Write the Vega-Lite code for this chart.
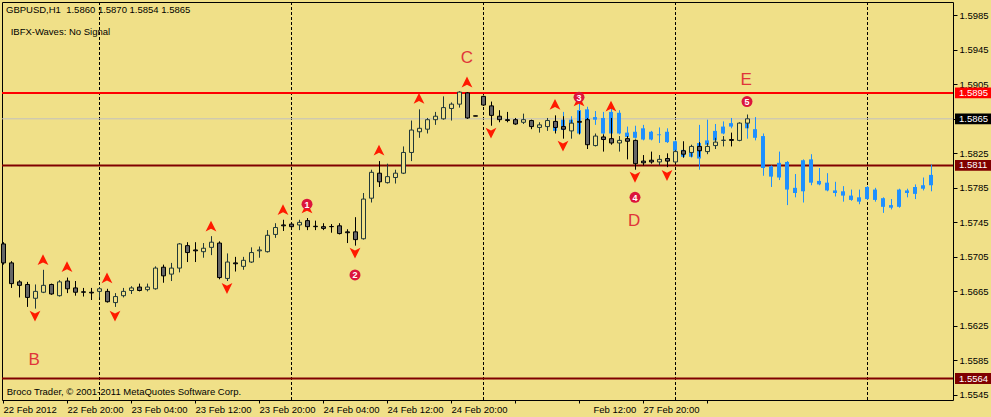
{
  "$schema": "https://vega.github.io/schema/vega-lite/v6.json",
  "width": 951,
  "height": 398,
  "autosize": {"type": "none"},
  "padding": {"left": 2, "top": 2, "right": 38, "bottom": 17},
  "background": "#F0E088",
  "config": {
    "view": {"stroke": "#000000", "strokeWidth": 1},
    "font": "Liberation Sans",
    "axis": {"grid": false, "domain": false, "tickColor": "#000000", "labelColor": "#000000", "labelFont": "Liberation Sans", "labelFontSize": 9.5, "labelOverlap": false, "labelBound": false},
    "axisY": {"orient": "right", "labelOverlap": false, "labelFlush": false}
  },
  "datasets": {
    "days": [{"i": 12}, {"i": 36}, {"i": 60}, {"i": 84}, {"i": 108}],
    "levels": [
      {"price": 1.5895, "kind": "red"},
      {"price": 1.5865, "kind": "bid"},
      {"price": 1.5811, "kind": "maroon"},
      {"price": 1.5564, "kind": "maroon"}
    ],
    "candles": [
      {"i": 0, "open": 1.5720, "high": 1.5722, "low": 1.5696, "close": 1.5698},
      {"i": 1, "open": 1.5698, "high": 1.5700, "low": 1.5669, "close": 1.5674},
      {"i": 2, "open": 1.5676, "high": 1.5678, "low": 1.5658, "close": 1.5672},
      {"i": 3, "open": 1.5673, "high": 1.5676, "low": 1.5647, "close": 1.5658},
      {"i": 4, "open": 1.5657, "high": 1.5673, "low": 1.5645, "close": 1.5665},
      {"i": 5, "open": 1.5664, "high": 1.5690, "low": 1.5663, "close": 1.5672},
      {"i": 6, "open": 1.5673, "high": 1.5674, "low": 1.5661, "close": 1.5662},
      {"i": 7, "open": 1.5660, "high": 1.5678, "low": 1.5659, "close": 1.5676},
      {"i": 8, "open": 1.5677, "high": 1.5681, "low": 1.5663, "close": 1.5668},
      {"i": 9, "open": 1.5669, "high": 1.5677, "low": 1.5660, "close": 1.5664},
      {"i": 10, "open": 1.56645, "high": 1.5669, "low": 1.5659, "close": 1.5664},
      {"i": 11, "open": 1.5664, "high": 1.5669, "low": 1.5655, "close": 1.56632},
      {"i": 12, "open": 1.5665, "high": 1.5670, "low": 1.5658, "close": 1.5668},
      {"i": 13, "open": 1.5665, "high": 1.5668, "low": 1.5652, "close": 1.5653},
      {"i": 14, "open": 1.5652, "high": 1.5663, "low": 1.5647, "close": 1.5659},
      {"i": 15, "open": 1.5660, "high": 1.5669, "low": 1.5658, "close": 1.5665},
      {"i": 16, "open": 1.5666, "high": 1.5671, "low": 1.5662, "close": 1.5669},
      {"i": 17, "open": 1.5670, "high": 1.5674, "low": 1.5665, "close": 1.5666},
      {"i": 18, "open": 1.5667, "high": 1.5674, "low": 1.5665, "close": 1.5670},
      {"i": 19, "open": 1.5668, "high": 1.5694, "low": 1.5667, "close": 1.5692},
      {"i": 20, "open": 1.5693, "high": 1.5696, "low": 1.5675, "close": 1.5683},
      {"i": 21, "open": 1.5685, "high": 1.5698, "low": 1.5677, "close": 1.5692},
      {"i": 22, "open": 1.5692, "high": 1.5721, "low": 1.5687, "close": 1.5720},
      {"i": 23, "open": 1.5718, "high": 1.5722, "low": 1.5699, "close": 1.5710},
      {"i": 24, "open": 1.5713, "high": 1.5722, "low": 1.5699, "close": 1.5712},
      {"i": 25, "open": 1.5711, "high": 1.5721, "low": 1.5704, "close": 1.5715},
      {"i": 26, "open": 1.5716, "high": 1.5729, "low": 1.5707, "close": 1.5722},
      {"i": 27, "open": 1.5721, "high": 1.5723, "low": 1.5679, "close": 1.5681},
      {"i": 28, "open": 1.5680, "high": 1.5709, "low": 1.5677, "close": 1.5699},
      {"i": 29, "open": 1.5698, "high": 1.5705, "low": 1.5688, "close": 1.5697},
      {"i": 30, "open": 1.5694, "high": 1.5705, "low": 1.5690, "close": 1.5701},
      {"i": 31, "open": 1.5699, "high": 1.5716, "low": 1.5698, "close": 1.5710},
      {"i": 32, "open": 1.5712, "high": 1.5717, "low": 1.5704, "close": 1.5713},
      {"i": 33, "open": 1.5711, "high": 1.5736, "low": 1.5710, "close": 1.5730},
      {"i": 34, "open": 1.5731, "high": 1.5744, "low": 1.5727, "close": 1.5739},
      {"i": 35, "open": 1.5742, "high": 1.5748, "low": 1.5735, "close": 1.5741},
      {"i": 36, "open": 1.5743, "high": 1.5744, "low": 1.5738, "close": 1.5740},
      {"i": 37, "open": 1.5742, "high": 1.5748, "low": 1.5736, "close": 1.5745},
      {"i": 38, "open": 1.5747, "high": 1.5750, "low": 1.5736, "close": 1.5740},
      {"i": 39, "open": 1.57405, "high": 1.5747, "low": 1.5736, "close": 1.5740},
      {"i": 40, "open": 1.5740, "high": 1.5744, "low": 1.5736, "close": 1.5738},
      {"i": 41, "open": 1.57402, "high": 1.5743, "low": 1.5733, "close": 1.5740},
      {"i": 42, "open": 1.5741, "high": 1.5744, "low": 1.5731, "close": 1.5732},
      {"i": 43, "open": 1.5734, "high": 1.5737, "low": 1.5721, "close": 1.5733},
      {"i": 44, "open": 1.5734, "high": 1.5751, "low": 1.5718, "close": 1.5725},
      {"i": 45, "open": 1.5726, "high": 1.5779, "low": 1.5725, "close": 1.5772},
      {"i": 46, "open": 1.5773, "high": 1.5806, "low": 1.5768, "close": 1.5803},
      {"i": 47, "open": 1.5802, "high": 1.5816, "low": 1.5786, "close": 1.5792},
      {"i": 48, "open": 1.5791, "high": 1.5813, "low": 1.5790, "close": 1.5798},
      {"i": 49, "open": 1.5797, "high": 1.5806, "low": 1.5790, "close": 1.5802},
      {"i": 50, "open": 1.5802, "high": 1.5833, "low": 1.5801, "close": 1.5826},
      {"i": 51, "open": 1.5826, "high": 1.5863, "low": 1.5816, "close": 1.5852},
      {"i": 52, "open": 1.5850, "high": 1.5876, "low": 1.5843, "close": 1.5854},
      {"i": 53, "open": 1.5853, "high": 1.5866, "low": 1.5848, "close": 1.5864},
      {"i": 54, "open": 1.5864, "high": 1.5873, "low": 1.5858, "close": 1.5868},
      {"i": 55, "open": 1.5865, "high": 1.5891, "low": 1.5864, "close": 1.5878},
      {"i": 56, "open": 1.5877, "high": 1.5884, "low": 1.5863, "close": 1.5882},
      {"i": 57, "open": 1.5882, "high": 1.5897, "low": 1.5878, "close": 1.5896},
      {"i": 58, "open": 1.5895, "high": 1.5896, "low": 1.5865, "close": 1.5866},
      {"i": 59, "open": 1.58685, "high": 1.58685, "low": 1.58681, "close": 1.58681},
      {"i": 60, "open": 1.5891, "high": 1.5892, "low": 1.5880, "close": 1.5881},
      {"i": 61, "open": 1.5880, "high": 1.5885, "low": 1.5857, "close": 1.5869},
      {"i": 62, "open": 1.5868, "high": 1.5875, "low": 1.5861, "close": 1.5864},
      {"i": 63, "open": 1.5864, "high": 1.5873, "low": 1.5861, "close": 1.5863},
      {"i": 64, "open": 1.5864, "high": 1.5866, "low": 1.5858, "close": 1.5859},
      {"i": 65, "open": 1.5861, "high": 1.5871, "low": 1.5859, "close": 1.5864},
      {"i": 66, "open": 1.5863, "high": 1.5864, "low": 1.5853, "close": 1.5856},
      {"i": 67, "open": 1.5855, "high": 1.5861, "low": 1.5849, "close": 1.5858},
      {"i": 68, "open": 1.5856, "high": 1.5866, "low": 1.5851, "close": 1.5863},
      {"i": 69, "open": 1.5862, "high": 1.5869, "low": 1.5848, "close": 1.5855},
      {"i": 70, "open": 1.5856, "high": 1.5868, "low": 1.5842, "close": 1.5853},
      {"i": 71, "open": 1.5851, "high": 1.5864, "low": 1.5842, "close": 1.5860},
      {"i": 72, "open": 1.5862, "high": 1.5874, "low": 1.5847, "close": 1.5861},
      {"i": 73, "open": 1.5864, "high": 1.5866, "low": 1.5830, "close": 1.5835},
      {"i": 74, "open": 1.5834, "high": 1.5848, "low": 1.5833, "close": 1.5845},
      {"i": 75, "open": 1.5844, "high": 1.5847, "low": 1.5827, "close": 1.5841},
      {"i": 76, "open": 1.5842, "high": 1.5866, "low": 1.5835, "close": 1.5837},
      {"i": 77, "open": 1.5837, "high": 1.5845, "low": 1.5827, "close": 1.5840},
      {"i": 78, "open": 1.5842, "high": 1.5845, "low": 1.5818, "close": 1.5839},
      {"i": 79, "open": 1.5840, "high": 1.5841, "low": 1.5806, "close": 1.5813},
      {"i": 80, "open": 1.5816, "high": 1.5823, "low": 1.5811, "close": 1.5814},
      {"i": 81, "open": 1.5817, "high": 1.5827, "low": 1.5813, "close": 1.5815},
      {"i": 82, "open": 1.5815, "high": 1.5823, "low": 1.5811, "close": 1.5818},
      {"i": 83, "open": 1.5819, "high": 1.5825, "low": 1.5809, "close": 1.5816},
      {"i": 84, "open": 1.5815, "high": 1.5829, "low": 1.5814, "close": 1.5827},
      {"i": 85, "open": 1.5828, "high": 1.5839, "low": 1.5820, "close": 1.5824},
      {"i": 86, "open": 1.5826, "high": 1.5835, "low": 1.5821, "close": 1.5833},
      {"i": 87, "open": 1.5833, "high": 1.5838, "low": 1.5821, "close": 1.5828},
      {"i": 88, "open": 1.5827, "high": 1.5837, "low": 1.5824, "close": 1.5833},
      {"i": 89, "open": 1.5834, "high": 1.5843, "low": 1.5830, "close": 1.5838},
      {"i": 90, "open": 1.5840, "high": 1.5845, "low": 1.5833, "close": 1.58402},
      {"i": 91, "open": 1.5841, "high": 1.5849, "low": 1.5833, "close": 1.5840},
      {"i": 92, "open": 1.5840, "high": 1.5861, "low": 1.5839, "close": 1.5860},
      {"i": 93, "open": 1.5860, "high": 1.5870, "low": 1.5854, "close": 1.5865}
    ],
    "blue": [
      {"i": 69, "open": 1.5862, "high": 1.5866, "low": 1.5850, "close": 1.5851},
      {"i": 70, "open": 1.5864, "high": 1.5873, "low": 1.5849, "close": 1.5852},
      {"i": 71, "open": 1.5854, "high": 1.5868, "low": 1.5849, "close": 1.5864},
      {"i": 72, "open": 1.5848, "high": 1.5883, "low": 1.5847, "close": 1.5875},
      {"i": 73, "open": 1.5876, "high": 1.5879, "low": 1.5857, "close": 1.5858},
      {"i": 74, "open": 1.5867, "high": 1.5874, "low": 1.5858, "close": 1.5864},
      {"i": 75, "open": 1.5866, "high": 1.5873, "low": 1.5847, "close": 1.5848},
      {"i": 76, "open": 1.5848, "high": 1.5878, "low": 1.5847, "close": 1.5873},
      {"i": 77, "open": 1.5872, "high": 1.5875, "low": 1.5847, "close": 1.5848},
      {"i": 78, "open": 1.5849, "high": 1.5856, "low": 1.5843, "close": 1.5844},
      {"i": 79, "open": 1.5850, "high": 1.5857, "low": 1.5842, "close": 1.5843},
      {"i": 80, "open": 1.5841, "high": 1.5858, "low": 1.5840, "close": 1.5854},
      {"i": 81, "open": 1.5850, "high": 1.5851, "low": 1.5840, "close": 1.5841},
      {"i": 82, "open": 1.5847, "high": 1.5855, "low": 1.5837, "close": 1.5846},
      {"i": 83, "open": 1.5838, "high": 1.5854, "low": 1.5837, "close": 1.5850},
      {"i": 84, "open": 1.5839, "high": 1.5840, "low": 1.5827, "close": 1.5828},
      {"i": 85, "open": 1.5829, "high": 1.5831, "low": 1.5820, "close": 1.5821},
      {"i": 86, "open": 1.5821, "high": 1.5833, "low": 1.5820, "close": 1.5832},
      {"i": 87, "open": 1.5837, "high": 1.5858, "low": 1.5806, "close": 1.5819},
      {"i": 88, "open": 1.5835, "high": 1.5864, "low": 1.5833, "close": 1.5840},
      {"i": 89, "open": 1.5840, "high": 1.5859, "low": 1.5839, "close": 1.5851},
      {"i": 90, "open": 1.5848, "high": 1.5862, "low": 1.5847, "close": 1.5856},
      {"i": 91, "open": 1.5856, "high": 1.5866, "low": 1.5854, "close": 1.5860},
      {"i": 93, "open": 1.5860, "high": 1.5869, "low": 1.5842, "close": 1.5854},
      {"i": 94, "open": 1.5853, "high": 1.5867, "low": 1.5840, "close": 1.5843},
      {"i": 95, "open": 1.5845, "high": 1.5848, "low": 1.5799, "close": 1.5808},
      {"i": 96, "open": 1.5810, "high": 1.5811, "low": 1.5786, "close": 1.5798},
      {"i": 97, "open": 1.5797, "high": 1.5827, "low": 1.5794, "close": 1.5814},
      {"i": 98, "open": 1.5815, "high": 1.5816, "low": 1.5765, "close": 1.5783},
      {"i": 99, "open": 1.5785, "high": 1.5801, "low": 1.5774, "close": 1.5779},
      {"i": 100, "open": 1.5781, "high": 1.5818, "low": 1.5768, "close": 1.5817},
      {"i": 101, "open": 1.5818, "high": 1.5824, "low": 1.5788, "close": 1.5791},
      {"i": 102, "open": 1.5793, "high": 1.5808, "low": 1.5788, "close": 1.5789},
      {"i": 103, "open": 1.5791, "high": 1.5802, "low": 1.5781, "close": 1.5782},
      {"i": 104, "open": 1.5782, "high": 1.5792, "low": 1.5775, "close": 1.5779},
      {"i": 105, "open": 1.5781, "high": 1.5787, "low": 1.5769, "close": 1.5776},
      {"i": 106, "open": 1.5776, "high": 1.5783, "low": 1.5770, "close": 1.5771},
      {"i": 107, "open": 1.5774, "high": 1.5783, "low": 1.5766, "close": 1.5769},
      {"i": 108, "open": 1.5772, "high": 1.5787, "low": 1.5771, "close": 1.5786},
      {"i": 109, "open": 1.5771, "high": 1.5785, "low": 1.5769, "close": 1.5783},
      {"i": 110, "open": 1.5773, "high": 1.5774, "low": 1.5756, "close": 1.5763},
      {"i": 111, "open": 1.5765, "high": 1.5772, "low": 1.5760, "close": 1.5762},
      {"i": 112, "open": 1.5763, "high": 1.5784, "low": 1.5762, "close": 1.5783},
      {"i": 113, "open": 1.5779, "high": 1.5784, "low": 1.5774, "close": 1.5782},
      {"i": 114, "open": 1.5778, "high": 1.5789, "low": 1.5772, "close": 1.5786},
      {"i": 115, "open": 1.5784, "high": 1.5797, "low": 1.5782, "close": 1.5788},
      {"i": 116, "open": 1.5788, "high": 1.5812, "low": 1.5781, "close": 1.5800}
    ],
    "upArrows": [
      {"i": 5, "price": 1.5701}, {"i": 8, "price": 1.5693}, {"i": 13, "price": 1.5680},
      {"i": 26, "price": 1.5740}, {"i": 35, "price": 1.5759}, {"i": 38, "price": 1.5761},
      {"i": 47, "price": 1.5828}, {"i": 52, "price": 1.5888}, {"i": 58, "price": 1.5907},
      {"i": 69, "price": 1.5881}, {"i": 72, "price": 1.5885}, {"i": 76, "price": 1.5879}
    ],
    "downArrows": [
      {"i": 4, "price": 1.5637}, {"i": 14, "price": 1.5637}, {"i": 28, "price": 1.5669},
      {"i": 44, "price": 1.5710}, {"i": 61, "price": 1.5849}, {"i": 70, "price": 1.5834},
      {"i": 79, "price": 1.5798}, {"i": 83, "price": 1.5800}
    ],
    "waves": [
      {"i": 38, "price": 1.5766, "n": "1"},
      {"i": 44, "price": 1.5684, "n": "2"},
      {"i": 72, "price": 1.5890, "n": "3"},
      {"i": 79, "price": 1.5774, "n": "4"},
      {"i": 93, "price": 1.5885, "n": "5"}
    ],
    "letters": [
      {"i": 58, "price": 1.59355, "label": "C"},
      {"i": 92.9, "price": 1.5910, "label": "E"},
      {"i": 78.9, "price": 1.57466, "label": "D"},
      {"i": 3.9, "price": 1.55855, "label": "B"}
    ],
    "notes": [
      {"i": 0.375, "price": 1.59911, "label": "GBPUSD,H1\u00a0 1.5860 1.5870 1.5854 1.5865"},
      {"i": 0.96, "price": 1.59656, "label": "IBFX-Waves: No Signal"},
      {"i": 0.46, "price": 1.55487, "label": "Broco Trader, © 2001-2011 MetaQuotes Software Corp."}
    ]
  },
  "layer": [
    {
      "data": {"name": "days"},
      "mark": {"type": "rule", "strokeDash": [3, 2], "color": "#000000", "strokeWidth": 1, "xOffset": 0.5},
      "encoding": {
        "x": {"field": "i", "type": "quantitative", "title": null, "scale": {"domain": [-0.125, 118.75], "nice": false, "zero": false, "padding": 0}}
      }
    },
    {
      "data": {"name": "levels"},
      "mark": {"type": "rule"},
      "encoding": {
        "y": {"field": "price", "type": "quantitative", "title": null, "scale": {"domain": [1.55391, 1.60004], "nice": false, "zero": false, "padding": 0},
          "axis": {"orient": "right", "title": null, "values": [1.5545, 1.5585, 1.5625, 1.5665, 1.5705, 1.5745, 1.5785, 1.5825, 1.5865, 1.5905, 1.5945, 1.5985], "format": ".4f", "tickSize": 4, "labelPadding": 2, "labelBaseline": "middle", "labelOverlap": false, "labelFlush": false, "labelBound": false}},
        "color": {"condition": [{"test": "datum.kind == 'red'", "value": "#FF0000"}, {"test": "datum.kind == 'bid'", "value": "#C0C0C0"}], "value": "#800000"},
        "strokeWidth": {"condition": {"test": "datum.kind == 'bid'", "value": 1}, "value": 2}
      }
    },
    {
      "data": {"name": "blue"},
      "mark": {"type": "rule", "color": "#1E90FF", "strokeWidth": 1, "xOffset": 0.5},
      "encoding": {
        "x": {"field": "i", "type": "quantitative", "title": null, "scale": {"domain": [-0.125, 118.75], "nice": false, "zero": false, "padding": 0}},
        "y": {"field": "low", "type": "quantitative", "title": null, "scale": {"domain": [1.55391, 1.60004], "nice": false, "zero": false, "padding": 0},
          "axis": {"orient": "right", "title": null, "values": [1.5545, 1.5585, 1.5625, 1.5665, 1.5705, 1.5745, 1.5785, 1.5825, 1.5865, 1.5905, 1.5945, 1.5985], "format": ".4f", "tickSize": 4, "labelPadding": 2, "labelBaseline": "middle", "labelOverlap": false, "labelFlush": false, "labelBound": false}},
        "y2": {"field": "high"}
      }
    },
    {
      "data": {"name": "blue"},
      "mark": {"type": "bar", "size": 4, "color": "#1E90FF"},
      "encoding": {
        "x": {"field": "i", "type": "quantitative", "title": null, "scale": {"domain": [-0.125, 118.75], "nice": false, "zero": false, "padding": 0}},
        "y": {"field": "open", "type": "quantitative", "title": null, "scale": {"domain": [1.55391, 1.60004], "nice": false, "zero": false, "padding": 0},
          "axis": {"orient": "right", "title": null, "values": [1.5545, 1.5585, 1.5625, 1.5665, 1.5705, 1.5745, 1.5785, 1.5825, 1.5865, 1.5905, 1.5945, 1.5985], "format": ".4f", "tickSize": 4, "labelPadding": 2, "labelBaseline": "middle", "labelOverlap": false, "labelFlush": false, "labelBound": false}},
        "y2": {"field": "close"}
      }
    },
    {
      "data": {"name": "candles"},
      "mark": {"type": "rule", "strokeWidth": 1, "xOffset": 0.5},
      "encoding": {
        "x": {"field": "i", "type": "quantitative", "title": null, "scale": {"domain": [-0.125, 118.75], "nice": false, "zero": false, "padding": 0}},
        "y": {"field": "low", "type": "quantitative", "title": null, "scale": {"domain": [1.55391, 1.60004], "nice": false, "zero": false, "padding": 0},
          "axis": {"orient": "right", "title": null, "values": [1.5545, 1.5585, 1.5625, 1.5665, 1.5705, 1.5745, 1.5785, 1.5825, 1.5865, 1.5905, 1.5945, 1.5985], "format": ".4f", "tickSize": 4, "labelPadding": 2, "labelBaseline": "middle", "labelOverlap": false, "labelFlush": false, "labelBound": false}},
        "y2": {"field": "high"},
        "color": {"condition": {"test": "datum.close < datum.open", "value": "#000000"}, "value": "#213838"}
      }
    },
    {
      "data": {"name": "candles"},
      "mark": {"type": "bar", "size": 4, "xOffset": 0.5, "strokeWidth": 1},
      "encoding": {
        "x": {"field": "i", "type": "quantitative", "title": null, "scale": {"domain": [-0.125, 118.75], "nice": false, "zero": false, "padding": 0},
          "axis": {"title": null, "values": [0, 8, 16, 24, 32, 40, 48, 56, 64, 72, 80, 88], "tickSize": 3, "labelAlign": "left", "labelBaseline": "top", "labelPadding": 1, "labelFlush": false, "labelOverlap": false,
            "labelOffset": {"condition": {"test": "datum.value == 72", "value": 14}, "value": 0},
            "labelExpr": "['22 Feb 2012','22 Feb 20:00','23 Feb 04:00','23 Feb 12:00','23 Feb 20:00','24 Feb 04:00','24 Feb 12:00','24 Feb 20:00','','Feb 12:00','27 Feb 20:00',''][round(datum.value / 8)]"}},
        "y": {"field": "open", "type": "quantitative", "title": null, "scale": {"domain": [1.55391, 1.60004], "nice": false, "zero": false, "padding": 0},
          "axis": {"orient": "right", "title": null, "values": [1.5545, 1.5585, 1.5625, 1.5665, 1.5705, 1.5745, 1.5785, 1.5825, 1.5865, 1.5905, 1.5945, 1.5985], "format": ".4f", "tickSize": 4, "labelPadding": 2, "labelBaseline": "middle", "labelOverlap": false, "labelFlush": false, "labelBound": false}},
        "y2": {"field": "close"},
        "fill": {"condition": {"test": "datum.close < datum.open", "value": "#666666"}, "value": "#F0E088"},
        "stroke": {"condition": {"test": "datum.close < datum.open", "value": "#000000"}, "value": "#213838"}
      }
    },
    {
      "data": {"name": "upArrows"},
      "mark": {"type": "point", "shape": "M0,-1L0.9,0.8L0,0.35L-0.9,0.8Z", "filled": true, "size": 144, "color": "#FF1A00", "opacity": 1},
      "encoding": {
        "x": {"field": "i", "type": "quantitative", "title": null, "scale": {"domain": [-0.125, 118.75], "nice": false, "zero": false, "padding": 0}},
        "y": {"field": "price", "type": "quantitative", "title": null, "scale": {"domain": [1.55391, 1.60004], "nice": false, "zero": false, "padding": 0},
          "axis": {"orient": "right", "title": null, "values": [1.5545, 1.5585, 1.5625, 1.5665, 1.5705, 1.5745, 1.5785, 1.5825, 1.5865, 1.5905, 1.5945, 1.5985], "format": ".4f", "tickSize": 4, "labelPadding": 2, "labelBaseline": "middle", "labelOverlap": false, "labelFlush": false, "labelBound": false}}
      }
    },
    {
      "data": {"name": "downArrows"},
      "mark": {"type": "point", "shape": "M0,1L0.9,-0.8L0,-0.35L-0.9,-0.8Z", "filled": true, "size": 144, "color": "#FF1A00", "opacity": 1},
      "encoding": {
        "x": {"field": "i", "type": "quantitative", "title": null, "scale": {"domain": [-0.125, 118.75], "nice": false, "zero": false, "padding": 0}},
        "y": {"field": "price", "type": "quantitative", "title": null, "scale": {"domain": [1.55391, 1.60004], "nice": false, "zero": false, "padding": 0},
          "axis": {"orient": "right", "title": null, "values": [1.5545, 1.5585, 1.5625, 1.5665, 1.5705, 1.5745, 1.5785, 1.5825, 1.5865, 1.5905, 1.5945, 1.5985], "format": ".4f", "tickSize": 4, "labelPadding": 2, "labelBaseline": "middle", "labelOverlap": false, "labelFlush": false, "labelBound": false}}
      }
    },
    {
      "data": {"name": "waves"},
      "mark": {"type": "point", "shape": "circle", "filled": true, "size": 120, "color": "#DC143C", "opacity": 1},
      "encoding": {
        "x": {"field": "i", "type": "quantitative", "title": null, "scale": {"domain": [-0.125, 118.75], "nice": false, "zero": false, "padding": 0}},
        "y": {"field": "price", "type": "quantitative", "title": null, "scale": {"domain": [1.55391, 1.60004], "nice": false, "zero": false, "padding": 0},
          "axis": {"orient": "right", "title": null, "values": [1.5545, 1.5585, 1.5625, 1.5665, 1.5705, 1.5745, 1.5785, 1.5825, 1.5865, 1.5905, 1.5945, 1.5985], "format": ".4f", "tickSize": 4, "labelPadding": 2, "labelBaseline": "middle", "labelOverlap": false, "labelFlush": false, "labelBound": false}}
      }
    },
    {
      "data": {"name": "waves"},
      "mark": {"type": "text", "color": "#FFFFFF", "fontSize": 9, "fontWeight": "bold", "align": "center", "baseline": "middle", "dy": 0.5},
      "encoding": {
        "x": {"field": "i", "type": "quantitative", "title": null, "scale": {"domain": [-0.125, 118.75], "nice": false, "zero": false, "padding": 0}},
        "y": {"field": "price", "type": "quantitative", "title": null, "scale": {"domain": [1.55391, 1.60004], "nice": false, "zero": false, "padding": 0},
          "axis": {"orient": "right", "title": null, "values": [1.5545, 1.5585, 1.5625, 1.5665, 1.5705, 1.5745, 1.5785, 1.5825, 1.5865, 1.5905, 1.5945, 1.5985], "format": ".4f", "tickSize": 4, "labelPadding": 2, "labelBaseline": "middle", "labelOverlap": false, "labelFlush": false, "labelBound": false}},
        "text": {"field": "n"}
      }
    },
    {
      "data": {"name": "letters"},
      "mark": {"type": "text", "color": "#E0353A", "fontSize": 17, "align": "center", "baseline": "middle"},
      "encoding": {
        "x": {"field": "i", "type": "quantitative", "title": null, "scale": {"domain": [-0.125, 118.75], "nice": false, "zero": false, "padding": 0}},
        "y": {"field": "price", "type": "quantitative", "title": null, "scale": {"domain": [1.55391, 1.60004], "nice": false, "zero": false, "padding": 0},
          "axis": {"orient": "right", "title": null, "values": [1.5545, 1.5585, 1.5625, 1.5665, 1.5705, 1.5745, 1.5785, 1.5825, 1.5865, 1.5905, 1.5945, 1.5985], "format": ".4f", "tickSize": 4, "labelPadding": 2, "labelBaseline": "middle", "labelOverlap": false, "labelFlush": false, "labelBound": false}},
        "text": {"field": "label"}
      }
    },
    {
      "data": {"name": "notes"},
      "mark": {"type": "text", "color": "#000000", "fontSize": 9.5, "align": "left", "baseline": "middle"},
      "encoding": {
        "x": {"field": "i", "type": "quantitative", "title": null, "scale": {"domain": [-0.125, 118.75], "nice": false, "zero": false, "padding": 0}},
        "y": {"field": "price", "type": "quantitative", "title": null, "scale": {"domain": [1.55391, 1.60004], "nice": false, "zero": false, "padding": 0},
          "axis": {"orient": "right", "title": null, "values": [1.5545, 1.5585, 1.5625, 1.5665, 1.5705, 1.5745, 1.5785, 1.5825, 1.5865, 1.5905, 1.5945, 1.5985], "format": ".4f", "tickSize": 4, "labelPadding": 2, "labelBaseline": "middle", "labelOverlap": false, "labelFlush": false, "labelBound": false}},
        "text": {"field": "label"}
      }
    },
    {
      "data": {"name": "levels"},
      "mark": {"type": "point", "shape": "M-1,-0.3L1,-0.3L1,0.3L-1,0.3Z", "filled": true, "size": 1296, "opacity": 1},
      "encoding": {
        "x": {"datum": 121.25, "type": "quantitative", "title": null, "scale": {"domain": [-0.125, 118.75], "nice": false, "zero": false, "padding": 0}},
        "y": {"field": "price", "type": "quantitative", "title": null, "scale": {"domain": [1.55391, 1.60004], "nice": false, "zero": false, "padding": 0},
          "axis": {"orient": "right", "title": null, "values": [1.5545, 1.5585, 1.5625, 1.5665, 1.5705, 1.5745, 1.5785, 1.5825, 1.5865, 1.5905, 1.5945, 1.5985], "format": ".4f", "tickSize": 4, "labelPadding": 2, "labelBaseline": "middle", "labelOverlap": false, "labelFlush": false, "labelBound": false}},
        "color": {"condition": [{"test": "datum.kind == 'red'", "value": "#FF0000"}, {"test": "datum.kind == 'bid'", "value": "#000000"}], "value": "#800000"}
      }
    },
    {
      "data": {"name": "levels"},
      "mark": {"type": "text", "color": "#FFFFFF", "fontSize": 9.5, "align": "left", "baseline": "middle"},
      "encoding": {
        "x": {"datum": 119.5, "type": "quantitative", "title": null, "scale": {"domain": [-0.125, 118.75], "nice": false, "zero": false, "padding": 0}},
        "y": {"field": "price", "type": "quantitative", "title": null, "scale": {"domain": [1.55391, 1.60004], "nice": false, "zero": false, "padding": 0},
          "axis": {"orient": "right", "title": null, "values": [1.5545, 1.5585, 1.5625, 1.5665, 1.5705, 1.5745, 1.5785, 1.5825, 1.5865, 1.5905, 1.5945, 1.5985], "format": ".4f", "tickSize": 4, "labelPadding": 2, "labelBaseline": "middle", "labelOverlap": false, "labelFlush": false, "labelBound": false}},
        "text": {"field": "price", "format": ".4f"}
      }
    }
  ]
}
